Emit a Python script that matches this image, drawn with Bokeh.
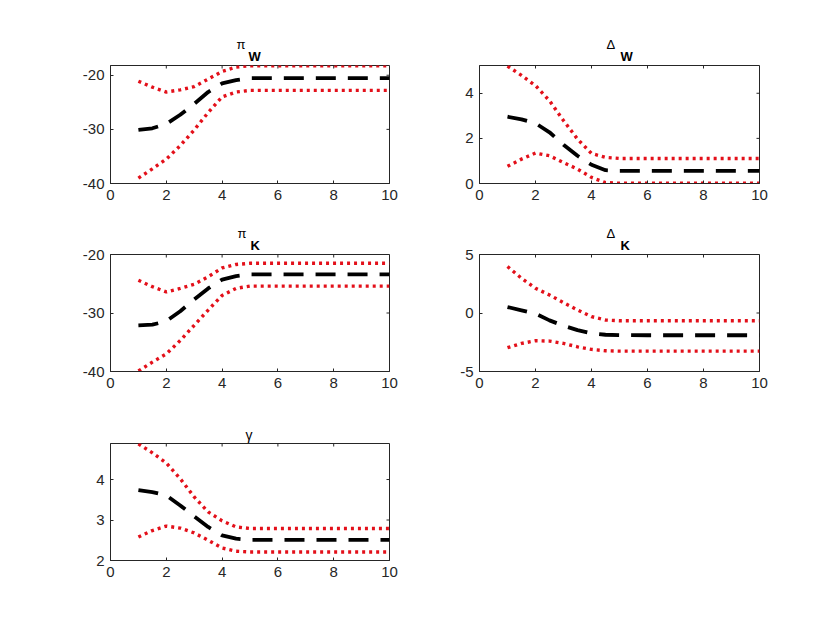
import math
from bokeh.plotting import figure
from bokeh.models import Range1d, LinearAxis, FixedTicker, Title
from bokeh.layouts import column, row
from bokeh.embed import file_html
from bokeh.resources import INLINE

x = [1, 1.5, 2, 2.5, 3, 3.5, 4, 4.5, 5, 6, 7, 8, 9, 10]

piW_med = [-30.1, -29.8, -29.0, -27.3, -25.3, -23.1, -21.5, -20.9, -20.55, -20.55, -20.55, -20.55, -20.55, -20.55]
piW_up = [-21.1, -22.2, -23.1, -22.7, -22.1, -20.7, -19.3, -18.5, -18.25, -18.25, -18.25, -18.25, -18.25, -18.25]
piW_lo = [-39.0, -37.3, -35.5, -33.0, -30.1, -26.9, -24.0, -23.1, -22.8, -22.8, -22.8, -22.8, -22.8, -22.8]

dW_med = [2.96, 2.84, 2.67, 2.27, 1.72, 1.23, 0.83, 0.59, 0.56, 0.56, 0.56, 0.56, 0.56, 0.56]
dW_up = [5.2, 4.79, 4.34, 3.67, 2.79, 1.97, 1.33, 1.16, 1.11, 1.11, 1.11, 1.11, 1.11, 1.11]
dW_lo = [0.76, 1.08, 1.35, 1.23, 0.93, 0.64, 0.27, 0.04, 0.01, 0.01, 0.01, 0.01, 0.01, 0.01]

piK_med = [-32.1, -32.0, -31.4, -29.7, -27.7, -25.8, -24.3, -23.7, -23.4, -23.4, -23.4, -23.4, -23.4, -23.4]
piK_up = [-24.4, -25.5, -26.4, -25.8, -25.1, -23.8, -22.3, -21.7, -21.5, -21.5, -21.5, -21.5, -21.5, -21.5]
piK_lo = [-39.9, -38.4, -37.0, -34.7, -32.1, -29.5, -27.0, -25.8, -25.4, -25.4, -25.4, -25.4, -25.4, -25.4]

dK_med = [0.51, 0.23, -0.06, -0.63, -1.09, -1.46, -1.74, -1.86, -1.89, -1.9, -1.9, -1.9, -1.9, -1.9]
dK_up = [3.97, 2.97, 2.11, 1.54, 0.89, 0.26, -0.31, -0.6, -0.66, -0.66, -0.66, -0.66, -0.66, -0.66]
dK_lo = [-2.97, -2.6, -2.37, -2.4, -2.6, -2.89, -3.11, -3.23, -3.26, -3.26, -3.26, -3.26, -3.26, -3.26]

g_med = [3.74, 3.69, 3.61, 3.36, 3.09, 2.83, 2.62, 2.54, 2.51, 2.51, 2.51, 2.51, 2.51, 2.51]
g_up = [4.88, 4.66, 4.41, 4.02, 3.57, 3.2, 2.98, 2.83, 2.79, 2.79, 2.79, 2.79, 2.79, 2.79]
g_lo = [2.58, 2.74, 2.85, 2.8, 2.68, 2.5, 2.31, 2.23, 2.21, 2.21, 2.21, 2.21, 2.21, 2.21]

x_ticks = [0, 2, 4, 6, 8, 10]

AX = "#262626"
RED = "#e3101a"
FONT = "Liberation Sans"


def panel(med, up, lo, yr, yticks, sym, sub, left, right, top, bottom, fh, fw, sym_off, sub_off):
    p = figure(frame_width=fw, frame_height=fh, min_border_left=left, min_border_right=right,
               min_border_top=top, min_border_bottom=bottom,
               x_range=Range1d(0, 10), y_range=Range1d(*yr),
               output_backend="svg", toolbar_location=None, x_axis_location=None,
               y_axis_location=None)
    p.grid.visible = False
    p.outline_line_color = AX
    p.outline_line_width = 1
    p.background_fill_color = "white"
    p.border_fill_color = "white"
    for loc, tk in (("left", yticks), ("below", x_ticks)):
        ax = LinearAxis(ticker=FixedTicker(ticks=tk))
        ax.axis_line_color = AX
        ax.major_tick_line_color = AX
        ax.major_tick_in = 3
        ax.major_tick_out = 0
        ax.minor_tick_line_color = None
        ax.major_label_text_color = AX
        ax.major_label_text_font = FONT
        ax.major_label_text_font_size = "15px"
        ax.major_label_overrides = {t: str(t) for t in tk}
        ax.major_label_standoff = 6
        p.add_layout(ax, loc)
    # mirrored ticks on the top and right edges of the box
    p.ray(x=x_ticks, y=yr[1], length=3, length_units="screen", angle=-math.pi / 2,
          line_color=AX, line_width=1)
    p.ray(x=10, y=yticks, length=3, length_units="screen", angle=math.pi,
          line_color=AX, line_width=1)
    p.line(x, up, line_color=RED, line_width=3.4, line_dash="3 4")
    p.line(x, lo, line_color=RED, line_width=3.4, line_dash="3 4")
    p.line(x, med, line_color="black", line_width=3.8, line_dash="20 12")
    if sub is None:
        p.add_layout(Title(text=sym, align="left", offset=sym_off, text_font=FONT,
                           text_font_size="14px", text_font_style="normal",
                           text_color="black", standoff=2), "above")
    else:
        p.add_layout(Title(text=sub, align="left", offset=sub_off, text_font=FONT,
                           text_font_size="13px", text_font_style="bold",
                           text_color="black", standoff=4), "above")
        p.add_layout(Title(text=sym, align="left", offset=sym_off, text_font=FONT,
                           text_font_size="13px", text_font_style="normal",
                           text_color="black", standoff=-14), "above")
    return p


a = panel(piW_med, piW_up, piW_lo, (-40, -18.2), [-40, -30, -20], "π", "W",
          110, 45, 65, 35, 118, 279, 126, 138)
b = panel(dW_med, dW_up, dW_lo, (0, 5.23), [0, 2, 4], "Δ", "W",
          45, 36, 65, 35, 118, 280, 127, 141)
c = panel(piK_med, piK_up, piK_lo, (-40, -20), [-40, -30, -20], "π", "K",
          110, 45, 36, 36, 117, 279, 127, 140)
d = panel(dK_med, dK_up, dK_lo, (-5, 5), [-5, 0, 5], "Δ", "K",
          45, 36, 36, 36, 117, 280, 127, 141)
e = panel(g_med, g_up, g_lo, (2, 4.89), [2, 3, 4], "γ", None,
          110, 45, 36, 40, 117, 279, 135, 0)

layout = column(row(a, b), row(c, d), row(e))

open("out.html", "w").write(file_html(layout, INLINE))
